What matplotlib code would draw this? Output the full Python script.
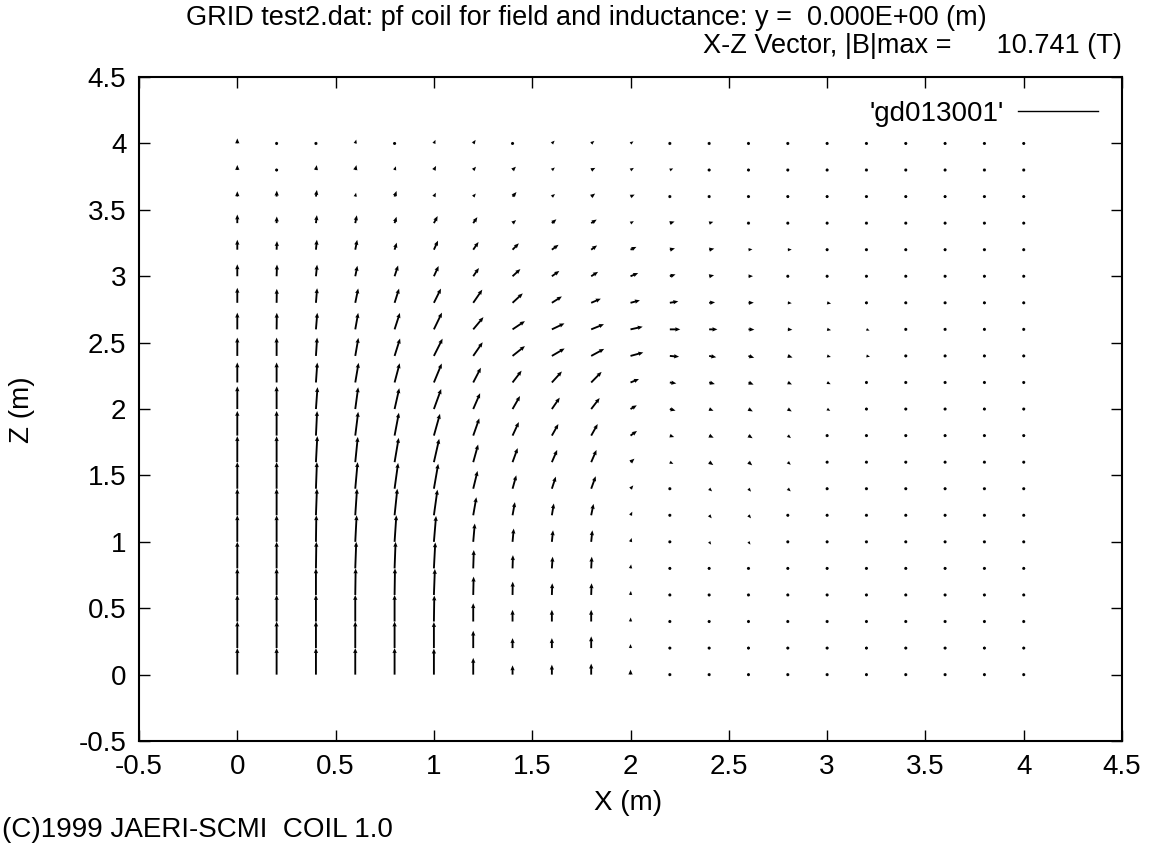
import numpy as np
import matplotlib.pyplot as plt
from matplotlib.lines import Line2D

plt.rcParams['font.family'] = ['Liberation Sans', 'DejaVu Sans']

# grid of the field map (m)
x_grid = [0.0, 0.2, 0.4, 0.6, 0.8, 1.0, 1.2, 1.4, 1.6, 1.8, 2.0,
          2.2, 2.4, 2.6, 2.8, 3.0, 3.2, 3.4, 3.6, 3.8, 4.0]
z_grid = list(x_grid)

# scaled field vectors, in mm of plot length; one row per z value (z = 0 ... 4)
bx_mm = [
    [0, 0, 0, 0, 0, 0, 0, 0, 0, 0, 0, 0, 1, 1, 0, 0, 0, 0, 0, 0, 0],
    [0, 0, 0, 0, 0, 0, 0, 0, 0, 0, 0, 0, 1, 1, 0, 0, 0, 0, 0, 0, 0],
    [0, 0, 0, 0, 0, 2, 0, 0, 0, 0, 1, 2, 3, 1, 1, 1, 1, 1, 1, 1, 1],
    [0, 0, 0, 2, 2, 5, 2, 1, 2, 2, 2, 3, 4, 3, 3, 2, 2, 2, 2, 2, 2],
    [0, 0, 2, 5, 5, 7, 3, 2, 4, 3, 3, 5, 7, 7, 5, 3, 3, 3, 3, 3, 3],
    [0, 0, 2, 7, 9, 11, 8, 6, 6, 6, 6, 9, 10, 10, 7, 6, 4, 4, 4, 4, 4],
    [0, 0, 5, 9, 14, 18, 16, 12, 10, 12, 9, 11, 13, 13, 9, 8, 6, 4, 4, 4, 4],
    [0, 0, 5, 12, 18, 22, 22, 19, 20, 23, 14, 14, 15, 13, 15, 10, 8, 6, 6, 5, 5],
    [0, 0, 7, 13, 21, 27, 25, 26, 27, 27, 20, 18, 21, 19, 15, 12, 9, 9, 7, 7, 6],
    [0, 0, 6, 15, 22, 31, 31, 32, 33, 33, 33, 22, 23, 21, 16, 13, 9, 9, 9, 8, 6],
    [0, 0, 8, 15, 24, 37, 35, 38, 40, 43, 32, 29, 22, 22, 20, 16, 13, 12, 10, 9, 8],
    [0, 0, 7, 17, 26, 40, 39, 46, 51, 53, 43, 33, 29, 26, 21, 18, 15, 15, 10, 10, 8],
    [0, 0, 6, 16, 28, 44, 48, 63, 65, 66, 65, 47, 36, 29, 24, 19, 18, 11, 10, 10, 12],
    [0, 1, 7, 15, 27, 41, 52, 63, 64, 65, 62, 53, 42, 30, 23, 20, 16, 13, 11, 10, 10],
    [0, 1, 6, 15, 23, 36, 46, 52, 51, 49, 48, 43, 30, 27, 20, 20, 14, 13, 9, 8, 9],
    [0, 2, 6, 11, 18, 24, 29, 40, 38, 35, 39, 29, 25, 23, 17, 17, 15, 13, 13, 13, 11],
    [0, 2, 5, 10, 11, 21, 27, 32, 34, 30, 30, 26, 26, 20, 20, 15, 13, 13, 12, 12, 8],
    [0, 1, 5, 8, 10, 19, 21, 18, 23, 28, 17, 24, 21, 15, 15, 13, 10, 12, 12, 10, 9],
    [0, 1, 5, 4, 10, 10, 13, 20, 16, 20, 21, 15, 13, 15, 12, 12, 12, 10, 10, 10, 10],
    [0, 1, 4, 6, 7, 11, 14, 17, 15, 21, 17, 17, 15, 14, 15, 12, 10, 10, 10, 8, 8],
    [0, 1, 2, 5, 8, 8, 12, 9, 14, 16, 15, 14, 15, 14, 13, 13, 12, 10, 10, 8, 8],
]
bz_mm = [
    [200, 200, 200, 200, 200, 196, 126, 70, 75, 83, 38, -15, -15, -15, -13, -13, -13, -13, -13, -13, -13],
    [200, 200, 200, 200, 200, 196, 131, 75, 75, 88, 30, -15, -15, -15, -13, -13, -13, -13, -13, -13, -13],
    [200, 200, 200, 200, 200, 196, 138, 88, 88, 88, 30, -15, -15, -12, -12, -12, -12, -12, -12, -12, -12],
    [200, 200, 200, 200, 200, 196, 138, 100, 88, 88, 30, -14, -17, -14, -14, -12, -12, -12, -12, -12, -12],
    [200, 200, 200, 200, 200, 196, 138, 100, 88, 88, 30, -13, -17, -17, -16, -12, -12, -12, -12, -12, -12],
    [200, 200, 200, 200, 200, 195, 138, 100, 87, 87, 29, -11, -21, -21, -17, -15, -14, -14, -14, -14, -14],
    [200, 200, 200, 200, 200, 193, 136, 99, 89, 86, 27, -12, -23, -23, -19, -16, -15, -14, -14, -14, -14],
    [200, 200, 200, 200, 194, 188, 134, 101, 91, 94, 25, -13, -20, -22, -20, -17, -16, -15, -15, -13, -13],
    [196, 196, 196, 190, 183, 176, 133, 106, 92, 92, 26, -13, -22, -24, -20, -17, -15, -15, -14, -14, -12],
    [186, 186, 185, 179, 172, 164, 130, 102, 87, 87, 35, -11, -16, -20, -19, -16, -14, -14, -15, -13, -12],
    [171, 171, 165, 164, 157, 151, 119, 98, 86, 83, 28, -12, -13, -18, -18, -14, -15, -13, -13, -11, -10],
    [151, 151, 150, 148, 145, 143, 111, 89, 83, 80, 26, -7, -12, -16, -15, -13, -12, -9, -13, -13, -10],
    [138, 138, 138, 136, 131, 130, 103, 74, 56, 53, 26, -6, -10, -14, -12, -8, -6, -12, -13, -13, -10],
    [126, 125, 125, 124, 124, 126, 92, 62, 45, 39, 20, 0, 0, -2, -3, -6, -9, -11, -12, -10, -9],
    [113, 105, 110, 108, 107, 107, 99, 71, 48, 31, 19, 11, 4, 1, -3, -6, -8, -5, -8, -9, -6],
    [90, 88, 87, 79, 81, 77, 62, 54, 40, 33, 24, 14, 8, 1, 0, -2, -5, -6, -6, -7, -7],
    [75, 65, 75, 74, 53, 68, 58, 48, 37, 32, 21, 10, 8, 3, 1, -2, -3, -3, -2, 0, -5],
    [65, 50, 60, 59, 48, 53, 45, 23, 29, 27, 15, 12, 10, 2, 0, 0, 0, 0, 0, -3, -5],
    [40, 45, 50, 29, 42, 29, 23, 34, 19, 23, 15, 12, 11, 4, 2, 0, 0, 0, 0, 0, 0],
    [38, 25, 37, 37, 28, 31, 25, 25, 19, 16, 16, 12, 12, 7, 5, 3, 1, 1, 1, 0, 0],
    [38, 25, 25, 29, 22, 27, 27, 15, 21, 19, 16, 13, 11, 7, 7, 5, 3, 3, 3, 1, 1],
]

title1 = "GRID test2.dat: pf coil for field and inductance: y =  0.000E+00 (m)"
title2 = "X-Z Vector, |B|max =      10.741 (T)"
ticks = [-0.5, 0, 0.5, 1, 1.5, 2, 2.5, 3, 3.5, 4, 4.5]
tick_labels = ['-0.5', '0', '0.5', '1', '1.5', '2', '2.5', '3', '3.5', '4', '4.5']

X, Z = np.meshgrid(x_grid, z_grid)
U = np.array(bx_mm) / 1000.0
W = np.array(bz_mm) / 1000.0

fig = plt.figure(figsize=(11.66, 8.44), dpi=100)
ax = fig.add_axes([0.1192, 0.1220, 0.8431, 0.7867])

ax.quiver(X, Z, U, W, angles='xy', scale_units='xy', scale=1,
          width=0.0019, headwidth=2.3, headlength=2.7, headaxislength=2.5,
          color='black', minlength=1.8)

ax.set_xlim(-0.5, 4.5)
ax.set_ylim(-0.5, 4.5)
ax.set_xticks(ticks)
ax.set_xticklabels(tick_labels)
ax.set_yticks(ticks)
ax.set_yticklabels(tick_labels)
ax.tick_params(direction='in', length=8, width=1, top=True, right=True,
               labelsize=20, pad=9, colors='black')
for sp in ax.spines.values():
    sp.set_linewidth(1.5)

ax.legend(handles=[Line2D([], [], color='black', lw=1)], labels=["'gd013001'"],
          loc='upper right', frameon=False, markerfirst=False, fontsize=20,
          handlelength=2.9, handletextpad=0.5, borderaxespad=0.45)

fig.text(0.503, 0.979, title1, ha='center', va='center', fontsize=19.5)
fig.text(0.962, 0.945, title2, ha='right', va='center', fontsize=19.5)
fig.text(0.019, 0.514, 'Z (m)', rotation=90, ha='center', va='center', fontsize=20)
fig.text(0.539, 0.049, 'X (m)', ha='center', va='center', fontsize=20)
fig.text(0.002, 0.016, '(C)1999 JAERI-SCMI  COIL 1.0', ha='left', va='center', fontsize=20)

plt.savefig('out.png', dpi=100)
